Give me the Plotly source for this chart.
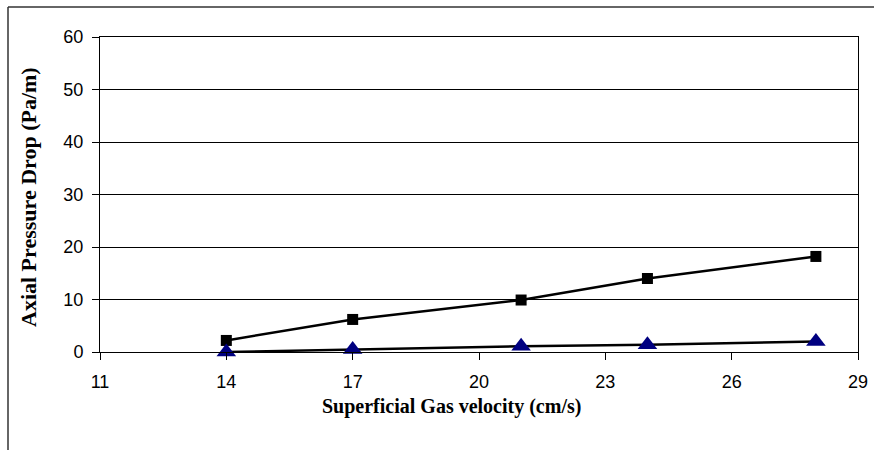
import plotly.graph_objects as go

velocity = [14, 17, 21, 24, 28]
series_square = [2.2, 6.2, 9.9, 14.0, 18.2]
series_triangle = [0.0, 0.5, 1.1, 1.4, 2.0]
x_ticks = [11, 14, 17, 20, 23, 26, 29]
y_ticks = [0, 10, 20, 30, 40, 50, 60]

L, R, T, B = 100, 858, 37, 352
W, H = 874, 450

def px2paper(px, py):
    return (px - L) / (R - L), (B - py) / (B - T)

fig = go.Figure()
fig.add_trace(go.Scatter(
    x=velocity, y=series_square, mode="lines+markers",
    line=dict(color="black", width=2.5),
    marker=dict(symbol="square", size=11, color="black"),
    cliponaxis=False, showlegend=False))
fig.add_trace(go.Scatter(
    x=velocity, y=series_triangle, mode="lines+markers",
    line=dict(color="black", width=2.5),
    marker=dict(symbol="triangle-up", size=17, color="#000080"),
    cliponaxis=False, showlegend=False))

x0, y0 = px2paper(8, 7)
x1, y1 = px2paper(890, 470)
shapes = [dict(type="line", xref="paper", yref="paper", x0=x0, y0=y0, x1=x1, y1=y0,
               line=dict(color="#333333", width=1.5)),
          dict(type="line", xref="paper", yref="paper", x0=x0, y0=y0, x1=x0, y1=y1,
               line=dict(color="#333333", width=1.5))]

ax, ay = px2paper(451, 406)
yx, yy = px2paper(28, 197)
annotations = [
    dict(text="<b>Superficial Gas velocity (cm/s)</b>", xref="paper", yref="paper",
         x=ax, y=ay, showarrow=False, xanchor="center", yanchor="middle",
         font=dict(family="Liberation Serif", size=20, color="black")),
    dict(text="<b>Axial Pressure Drop (Pa/m)</b>", xref="paper", yref="paper",
         x=yx, y=yy, showarrow=False, xanchor="center", yanchor="middle", textangle=-90,
         font=dict(family="Liberation Serif", size=22, color="black")),
]

fig.update_layout(
    width=W, height=H,
    margin=dict(l=L, r=W - R, t=T, b=H - B, pad=0, autoexpand=False),
    paper_bgcolor="white", plot_bgcolor="white",
    font=dict(family="Liberation Sans, Arial", size=18, color="black"),
    shapes=shapes, annotations=annotations,
    xaxis=dict(range=[11, 29], tickmode="array", tickvals=x_ticks,
               ticktext=[str(v) for v in x_ticks], automargin=False,
               showgrid=False, zeroline=False, showline=True, linecolor="black",
               linewidth=1, mirror=True, ticks="outside", ticklen=7,
               tickcolor="black", ticklabelstandoff=6,
               tickfont=dict(size=18)),
    yaxis=dict(range=[0, 60], tickmode="array", tickvals=y_ticks,
               ticktext=[str(v) for v in y_ticks], automargin=False,
               showgrid=True, gridcolor="black", gridwidth=1,
               zeroline=False, showline=True, linecolor="black", linewidth=1,
               mirror=True, ticks="outside", ticklen=7, tickcolor="black",
               ticklabelstandoff=5, tickfont=dict(size=18)),
)

fig.write_html("out.html", config={"displayModeBar": False},
               post_script="document.body.style.margin='0';document.body.style.overflow='hidden';")
